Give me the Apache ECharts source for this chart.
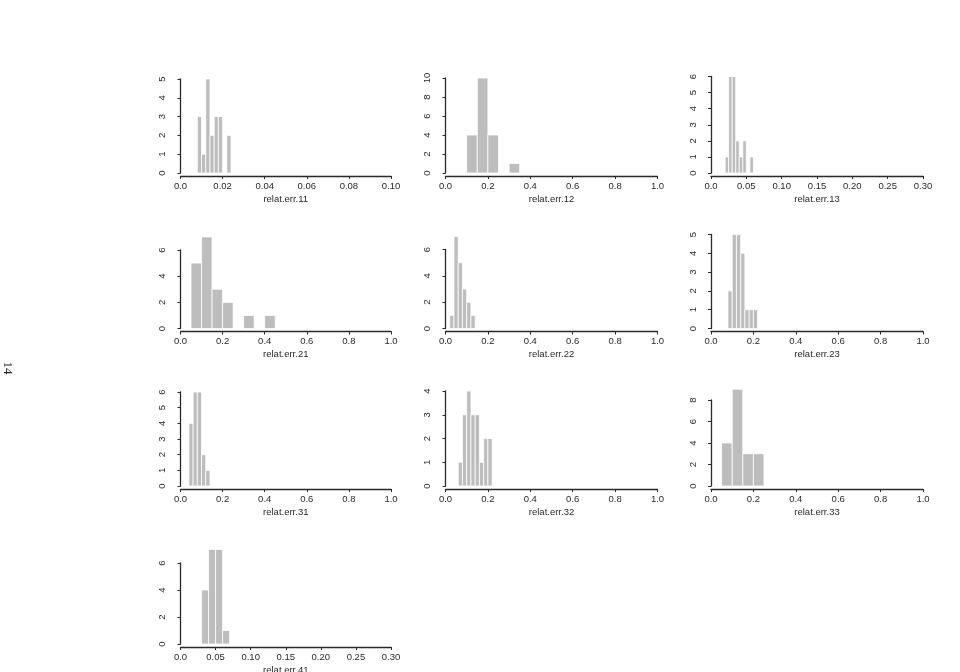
<!DOCTYPE html>
<html><head><meta charset="utf-8">
<script src="https://cdn.jsdelivr.net/npm/echarts@6/dist/echarts.min.js"></script>
<style>html,body{margin:0;padding:0;background:#fff}#c{width:960px;height:672px}</style>
</head><body><div id="c"></div>
<script>
// Histogram data: bin breaks and counts per panel
const breaks11 = [0.008,0.010,0.012,0.014,0.016,0.018,0.020,0.022,0.024];
const counts11 = [3,1,5,2,3,3,0,2];
const breaks12 = [0.10,0.15,0.20,0.25,0.30,0.35];
const counts12 = [4,10,4,0,1];
const breaks13 = [0.020,0.025,0.030,0.035,0.040,0.045,0.050,0.055,0.060];
const counts13 = [1,6,6,2,1,2,0,1];
const breaks21 = [0.05,0.10,0.15,0.20,0.25,0.30,0.35,0.40,0.45];
const counts21 = [5,7,3,2,0,1,0,1];
const breaks22 = [0.02,0.04,0.06,0.08,0.10,0.12,0.14];
const counts22 = [1,7,5,3,2,1];
const breaks23 = [0.08,0.10,0.12,0.14,0.16,0.18,0.20,0.22];
const counts23 = [2,5,5,4,1,1,1];
const breaks31 = [0.04,0.06,0.08,0.10,0.12,0.14];
const counts31 = [4,6,6,2,1];
const breaks32 = [0.06,0.08,0.10,0.12,0.14,0.16,0.18,0.20,0.22];
const counts32 = [1,3,4,3,3,1,2,2];
const breaks33 = [0.05,0.10,0.15,0.20,0.25];
const counts33 = [4,9,3,3];
const breaks41 = [0.03,0.04,0.05,0.06,0.07];
const counts41 = [4,7,7,1];

// Tick labels
const xTicksA = ['0.0','0.02','0.04','0.06','0.08','0.10'];
const xTicksB = ['0.0','0.2','0.4','0.6','0.8','1.0'];
const xTicksC = ['0.0','0.05','0.10','0.15','0.20','0.25','0.30'];
const titles = ['relat.err.11','relat.err.12','relat.err.13','relat.err.21','relat.err.22','relat.err.23','relat.err.31','relat.err.32','relat.err.33','relat.err.41'];

// Layout (positions only)
const colLeft = [180.5, 445.5, 711];
const colWidth = [210.5, 212, 212];
const rowZero = [173, 328.5, 486, 644];

const panels = [
  {b:breaks11,c:counts11,xt:xTicksA,xmax:0.10,xi:0.02,ymax:5,yi:1,col:0,row:0,top:79},
  {b:breaks12,c:counts12,xt:xTicksB,xmax:1.0,xi:0.2,ymax:10,yi:2,col:1,row:0,top:78},
  {b:breaks13,c:counts13,xt:xTicksC,xmax:0.30,xi:0.05,ymax:6,yi:1,col:2,row:0,top:76.5},
  {b:breaks21,c:counts21,xt:xTicksB,xmax:1.0,xi:0.2,ymax:6,yi:2,col:0,row:1,top:250},
  {b:breaks22,c:counts22,xt:xTicksB,xmax:1.0,xi:0.2,ymax:6,yi:2,col:1,row:1,top:249.5},
  {b:breaks23,c:counts23,xt:xTicksB,xmax:1.0,xi:0.2,ymax:5,yi:1,col:2,row:1,top:234.5},
  {b:breaks31,c:counts31,xt:xTicksB,xmax:1.0,xi:0.2,ymax:6,yi:1,col:0,row:2,top:392},
  {b:breaks32,c:counts32,xt:xTicksB,xmax:1.0,xi:0.2,ymax:4,yi:1,col:1,row:2,top:391},
  {b:breaks33,c:counts33,xt:xTicksB,xmax:1.0,xi:0.2,ymax:8,yi:2,col:2,row:2,top:400},
  {b:breaks41,c:counts41,xt:xTicksC,xmax:0.30,xi:0.05,ymax:6,yi:2,col:0,row:3,top:563}
];

const ink = '#2a2a2a';
const font = '"Liberation Sans Narrow", "Liberation Sans", Arial, sans-serif';
const fs = 9.5;
const grid = [], xAxis = [], yAxis = [], series = [];
panels.forEach((p, i) => {
  grid.push({left: colLeft[p.col], width: colWidth[p.col], top: p.top, height: rowZero[p.row] - p.top, outerBoundsMode: 'none'});
  xAxis.push({
    type:'value', gridIndex:i, min:0, max:p.xmax, interval:p.xi, offset:3,
    axisLine:{show:true, onZero:false, lineStyle:{color:ink, width:1.3}},
    axisTick:{show:true, length:3, lineStyle:{color:ink, width:1}},
    splitLine:{show:false},
    axisLabel:{fontSize:fs, color:ink, fontFamily:font, margin:5,
      formatter:(v)=>p.xt[Math.round(v/p.xi)]},
    name:titles[i], nameLocation:'middle', nameGap:18,
    nameTextStyle:{fontSize:fs, color:ink, fontFamily:font}
  });
  yAxis.push({
    type:'value', gridIndex:i, min:0, max:p.ymax, interval:p.yi, offset:8,
    axisLine:{show:true, lineStyle:{color:ink, width:1.3}},
    axisTick:{show:true, length:3, lineStyle:{color:ink, width:1}},
    splitLine:{show:false},
    axisLabel:{fontSize:fs, color:ink, fontFamily:font, margin:5, rotate:90}
  });
  const data = p.c.map((c, k) => [p.b[k], p.b[k+1], c]);
  series.push({
    type:'custom', xAxisIndex:i, yAxisIndex:i, clip:false, data:data,
    encode:{x:[0,1], y:2},
    renderItem:(params, api) => {
      const cnt = api.value(2);
      if (!cnt) return null;
      const p0 = api.coord([api.value(0), 0]);
      const p1 = api.coord([api.value(1), cnt]);
      return {type:'rect', shape:{x:p0[0], y:p1[1], width:p1[0]-p0[0], height:p0[1]-p1[1]},
        style:{fill:'#bdbdbd', stroke:'#ffffff', lineWidth:0.8}};
    }
  });
});

const chart = echarts.init(document.getElementById('c'), null, {renderer:'canvas'});
chart.setOption({
  animation:false,
  backgroundColor:'#ffffff',
  grid, xAxis, yAxis, series,
  graphic:[{type:'text', x:7, y:368, rotation:-Math.PI/2,
    style:{text:'14', fontSize:13, fontFamily:'Liberation Serif', fill:'#222', align:'center', verticalAlign:'middle'}}]
});
</script></body></html>
